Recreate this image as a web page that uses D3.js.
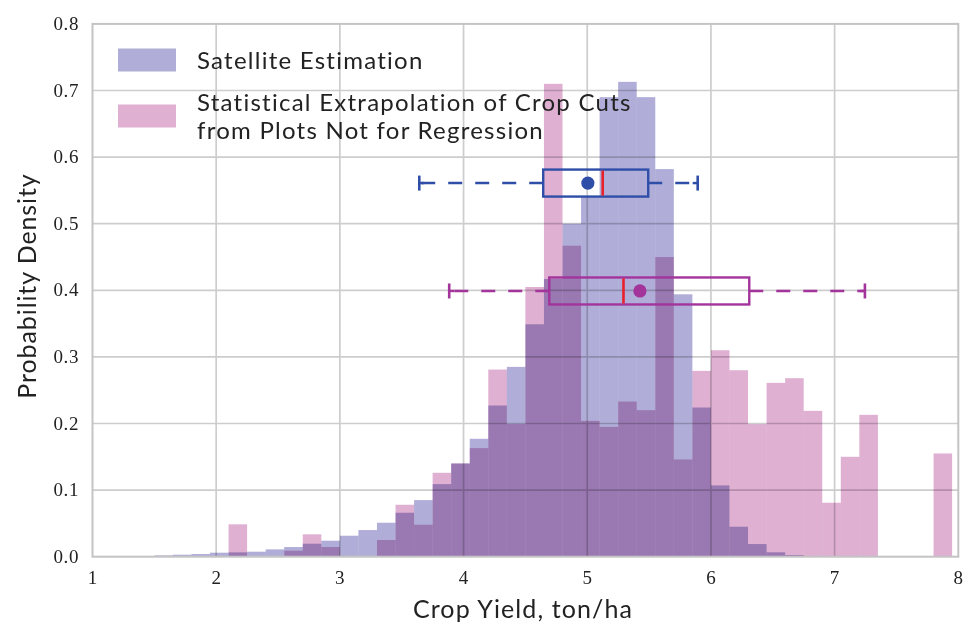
<!DOCTYPE html>
<html><head><meta charset="utf-8">
<script src="https://cdn.jsdelivr.net/npm/d3@7"></script>
<style>body{margin:0;background:#fff}</style>
</head><body>
<svg id="c" width="966" height="626"></svg>
<script>
// ---- data ----
const binLo = [1.35,1.50,1.65,1.80,1.95,2.10,2.25,2.40,2.55,2.70,2.85,3.00,3.15,3.30,3.45,3.60,3.75,3.90,4.05,4.20,4.35,4.50,4.65,4.80,4.95,5.10,5.25,5.40,5.55,5.70,5.85,6.00,6.15,6.30,6.45,6.60,6.75,6.90,7.05,7.20,7.35,7.50,7.65,7.80];
const binWidth = 0.15;
const satellite = [0.001,0.002,0.003,0.004,0.006,0.0065,0.0075,0.011,0.0145,0.0195,0.024,0.0315,0.040,0.051,0.066,0.085,0.109,0.140,0.177,0.227,0.285,0.349,0.417,0.500,0.540,0.690,0.713,0.690,0.582,0.394,0.224,0.107,0.045,0.019,0.0066,0.0025,0.001,0,0,0,0,0.001,0,0];
const cropCuts = [0,0,0,0,0,0.0486,0,0,0.009,0.0336,0.0145,0,0,0.025,0.078,0.048,0.126,0.140,0.163,0.281,0.199,0.405,0.710,0.467,0.204,0.195,0.233,0.220,0.450,0.146,0.279,0.310,0.280,0.199,0.261,0.268,0.219,0.081,0.150,0.213,0,0,0,0.155];
const seriesNames = ["Satellite Estimation", "Statistical Extrapolation of Crop Cuts\nfrom Plots Not for Regression"];
// box plots (satellite, crop cuts)
const whiskerLo = [3.642, 3.884];
const q1 = [4.644, 4.693];
const median = [5.125, 5.293];
const mean = [5.005, 5.426];
const q3 = [5.493, 6.310];
const whiskerHi = [5.893, 7.245];
const boxLevel = [0.561, 0.399];
const xTicks = [1,2,3,4,5,6,7,8];
const yTicks = [0.0,0.1,0.2,0.3,0.4,0.5,0.6,0.7,0.8];
const xLabel = "Crop Yield, ton/ha";
const yLabel = "Probability Density";

// ---- styles ----
const fillColors = ["#b0aed8", "#dfb0d2"];
const lineColors = ["#2f4ea8", "#a3349c"];
const medianColor = "#e8202a";
const gridColor = "#cdcdcd";
const sans = "Lato, 'Open Sans', sans-serif";
const serif = "'Liberation Serif', 'DejaVu Serif', serif";

const svg = d3.select("#c");
const x = d3.scaleLinear().domain([1, 8]).range([92.5, 958.3]);
const y = d3.scaleLinear().domain([0, 0.8]).range([556.7, 23.9]);

// grid
const g = svg.append("g");
g.selectAll(".gx").data(xTicks.slice(1, -1)).join("line")
  .attr("x1", d => x(d)).attr("x2", d => x(d))
  .attr("y1", y(0)).attr("y2", y(0.8))
  .attr("stroke", gridColor).attr("stroke-width", 1.7);
g.selectAll(".gy").data(yTicks.slice(1, -1)).join("line")
  .attr("y1", d => y(d)).attr("y2", d => y(d))
  .attr("x1", x(1)).attr("x2", x(8))
  .attr("stroke", gridColor).attr("stroke-width", 1.7);

// histograms
[satellite, cropCuts].forEach((vals, si) => {
  svg.append("g").style("mix-blend-mode", "multiply")
    .selectAll("rect").data(binLo.map((lo, i) => ({lo, v: vals[i]})).filter(d => d.v > 0))
    .join("rect")
    .attr("x", d => x(d.lo))
    .attr("width", d => x(d.lo + binWidth) - x(d.lo))
    .attr("y", d => y(d.v))
    .attr("height", d => y(0) - y(d.v))
    .attr("fill", fillColors[si])
    .style("mix-blend-mode", "multiply");
});

// frame
svg.append("rect").attr("x", x(1)).attr("y", y(0.8))
  .attr("width", x(8) - x(1)).attr("height", y(0) - y(0.8))
  .attr("fill", "none").attr("stroke", "#c4c4c4").attr("stroke-width", 2);

// box plots
const boxH = 27;
[0, 1].forEach(i => {
  const bg = svg.append("g");
  const cy = y(boxLevel[i]);
  const c = lineColors[i];
  bg.append("line").attr("x1", x(q1[i])).attr("x2", x(whiskerLo[i])).attr("y1", cy).attr("y2", cy)
    .attr("stroke", c).attr("stroke-width", 2.4).attr("stroke-dasharray", "14,13");
  bg.append("line").attr("x1", x(q3[i])).attr("x2", x(whiskerHi[i])).attr("y1", cy).attr("y2", cy)
    .attr("stroke", c).attr("stroke-width", 2.4).attr("stroke-dasharray", "14,13");
  [whiskerLo[i], whiskerHi[i]].forEach(v => {
    bg.append("line").attr("x1", x(v)).attr("x2", x(v)).attr("y1", cy - 7.5).attr("y2", cy + 7.5)
      .attr("stroke", c).attr("stroke-width", 2.6);
  });
  bg.append("line").attr("x1", x(whiskerLo[i])).attr("x2", x(whiskerLo[i]) + 5).attr("y1", cy).attr("y2", cy)
    .attr("stroke", c).attr("stroke-width", 2.4);
  bg.append("line").attr("x1", x(whiskerHi[i])).attr("x2", x(whiskerHi[i]) - 5).attr("y1", cy).attr("y2", cy)
    .attr("stroke", c).attr("stroke-width", 2.4);
  bg.append("rect").attr("x", x(q1[i])).attr("y", cy - boxH / 2)
    .attr("width", x(q3[i]) - x(q1[i])).attr("height", boxH)
    .attr("fill", "none").attr("stroke", c).attr("stroke-width", 2.4);
  bg.append("line").attr("x1", x(median[i])).attr("x2", x(median[i]))
    .attr("y1", cy - boxH / 2 + 1).attr("y2", cy + boxH / 2 - 1)
    .attr("stroke", medianColor).attr("stroke-width", 2.6);
  bg.append("circle").attr("cx", x(mean[i])).attr("cy", cy).attr("r", 6.6).attr("fill", c);
});

// tick labels
svg.append("g").selectAll("text").data(xTicks).join("text")
  .attr("x", d => x(d)).attr("y", 584)
  .attr("text-anchor", "middle")
  .attr("font-family", serif).attr("font-size", 19).attr("fill", "#222")
  .text(d => d3.format("d")(d));
svg.append("g").selectAll("text").data(yTicks).join("text")
  .attr("x", 79).attr("y", d => y(d) + 6)
  .attr("text-anchor", "end")
  .attr("font-family", serif).attr("font-size", 19).attr("fill", "#222")
  .attr("letter-spacing", 0.6)
  .text(d => d3.format(".1f")(d));

// axis labels
svg.append("text").attr("x", 523).attr("y", 618).attr("text-anchor", "middle")
  .attr("font-family", sans).attr("font-size", 25).attr("letter-spacing", 1.1)
  .attr("fill", "#222").text(xLabel);
svg.append("text").attr("transform", "translate(36,286) rotate(-90)").attr("text-anchor", "middle")
  .attr("font-family", sans).attr("font-size", 25).attr("letter-spacing", 0.9)
  .attr("fill", "#222").text(yLabel);

// legend
const legendY = [60, 116];
seriesNames.forEach((name, i) => {
  svg.append("rect").attr("x", 118).attr("y", legendY[i] - 11.5).attr("width", 58).attr("height", 23)
    .attr("fill", fillColors[i]);
  const lines = name.split("\n");
  lines.forEach((ln, k) => {
    svg.append("text").attr("font-family", sans).attr("font-size", 24)
      .attr("letter-spacing", 1.25).attr("fill", "#222")
      .attr("x", 197)
      .attr("y", legendY[i] + 9 + (k - (lines.length - 1) / 2) * 27.5)
      .text(ln);
  });
});
</script>
</body></html>
